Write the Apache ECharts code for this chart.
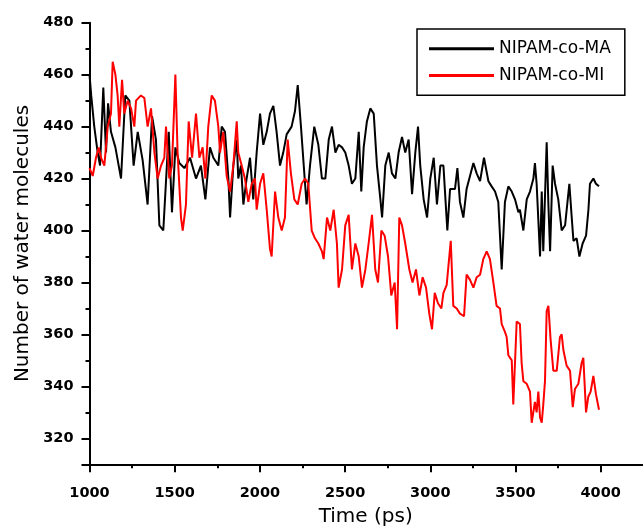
<!DOCTYPE html>
<html><head><meta charset="utf-8">
<script src="https://cdn.jsdelivr.net/npm/echarts@6/dist/echarts.min.js"></script>
<style>html,body{margin:0;padding:0;background:#fff}#c{width:643px;height:532px}</style>
</head><body><div id="c"></div>
<script>
const seriesNames = ['NIPAM-co-MA', 'NIPAM-co-MI'];
const xTitle = 'Time (ps)';
const yTitle = 'Number of water molecules';
const xTickLabels = [1000, 1500, 2000, 2500, 3000, 3500, 4000];
const yTickLabels = [320, 340, 360, 380, 400, 420, 440, 460, 480];

const maTime = [1000,1010,1028,1048,1062,1081,1097,1109,1126,1152,
1185,1210,1234,1259,1283,1312,1341,1367,1390,1410,
1433,1465,1484,1504,1527,1557,1590,1625,1654,1680,
1707,1727,1756,1776,1795,1815,1825,1844,1864,1873,
1889,1903,1922,1942,1961,1981,2001,2020,2040,2059,
2079,2098,2118,2137,2157,2186,2206,2222,2241,2265,
2274,2294,2319,2343,2364,2384,2404,2423,2443,2462,
2482,2501,2521,2540,2560,2580,2595,2609,2628,2648,
2668,2687,2707,2717,2736,2756,2775,2795,2814,2834,
2853,2873,2893,2912,2928,2941,2961,2981,3000,3020,
3039,3059,3077,3100,3116,3145,3159,3174,3194,3213,
3253,3272,3292,3315,3341,3360,3380,3399,3409,3419,
3438,3458,3478,3497,3517,3526,3546,3566,3585,3605,
3614,3624,3644,3654,3663,3683,3693,3703,3718,3732,
3751,3771,3791,3816,3830,3840,3859,3875,3894,3914,
3928,3937,3957,3972,3990];
const maValue = [460,452,440,430,425,455,430,449,438,432,
420,452,450,425,438,427,410,444,435,402,
400,438,407,432,426,424,428,420,425,412,
432,428,425,440,438,420,405,425,435,420,
425,410,420,428,412,430,445,433,438,445,
448,438,425,430,437,440,446,456,440,418,
410,425,440,433,420,420,435,440,430,433,
432,430,425,418,420,438,415,432,442,447,
445,425,412,405,425,430,422,420,430,436,
430,435,414,430,440,425,412,405,420,428,
410,425,425,400,416,416,424,411,405,416,
426,422,419,428,419,417,415,411,398,385,
411,417,415,412,407,408,400,412,415,420,
426,418,390,415,392,434,410,392,425,418,
412,400,402,418,405,396,397,390,395,398,
408,418,420,418,417];

const miTime = [1000,1019,1038,1054,1068,1087,1107,1126,1136,1152,
1165,1175,1191,1204,1224,1244,1263,1273,1302,1322,
1341,1361,1381,1400,1420,1439,1449,1468,1484,1504,
1517,1537,1547,1566,1582,1602,1625,1645,1664,1680,
1697,1717,1736,1756,1766,1785,1805,1825,1844,1864,
1873,1893,1912,1932,1952,1971,1981,2001,2020,2040,
2059,2069,2089,2108,2128,2147,2163,2182,2202,2222,
2245,2265,2284,2304,2323,2343,2364,2374,2394,2413,
2433,2452,2462,2482,2501,2521,2540,2560,2580,2599,
2619,2638,2658,2677,2693,2713,2732,2752,2771,2791,
2805,2818,2834,2853,2877,2896,2916,2936,2955,2975,
2994,3010,3026,3045,3065,3077,3096,3120,3135,3155,
3174,3198,3213,3233,3253,3272,3292,3311,3331,3350,
3370,3389,3409,3419,3438,3448,3458,3478,3487,3507,
3526,3536,3546,3566,3585,3595,3614,3624,3634,3644,
3654,3663,3673,3683,3693,3706,3722,3742,3761,3771,
3781,3800,3820,3836,3849,3869,3888,3898,3914,3927,
3941,3957,3972,3990];
const miValue = [424,421,428,432,428,425,440,445,465,460,
452,440,458,445,450,447,440,450,452,451,
440,447,430,420,425,428,440,420,425,460,
430,405,400,410,442,428,445,428,432,420,
440,452,450,440,430,438,421,415,425,442,
430,425,420,411,418,420,408,418,422,408,
393,390,415,405,400,405,435,422,412,410,
418,420,418,400,397,395,392,389,405,400,
408,395,378,385,402,406,385,395,390,378,
385,395,406,385,380,400,398,390,375,380,
362,405,402,395,385,380,385,375,382,378,
368,362,376,372,370,376,379,396,371,370,
368,367,383,381,378,382,383,389,392,389,
380,371,370,364,361,359,352,350,333,365,
364,349,342,341,338,326,334,330,338,328,
326,333,342,369,371,358,346,346,359,360,
354,348,346,332,339,341,349,351,330,336,
338,344,337,331];

const pairs = (t, v) => t.map((x, i) => [x, v[i]]);

const chart = echarts.init(document.getElementById('c'), null, {renderer: 'canvas'});
const black = '#000000';
const gridPos = {left: 89.5, top: 22.7, bottom: 67.7, width: 596.4, containLabel: false, outerBoundsMode: 'none'};
chart.setOption({
  animation: false,
  backgroundColor: '#ffffff',
  grid: [
    Object.assign({}, gridPos),
    Object.assign({}, gridPos)
  ],
  legend: {
    left: 417, top: 29, orient: 'vertical',
    data: seriesNames,
    icon: 'rect', itemWidth: 65, itemHeight: 3, itemGap: 9.7,
    padding: [11.3, 14, 11.3, 12],
    borderColor: black, borderWidth: 1.5, borderRadius: 0,
    textStyle: {fontFamily: 'DejaVu Sans', fontSize: 17, color: black, lineHeight: 16}
  },
  xAxis: [{
    type: 'value', gridIndex: 0, min: 1000, max: 4500, interval: 500,
    name: xTitle, nameLocation: 'middle', nameGap: 42,
    nameTextStyle: {fontFamily: 'DejaVu Sans', fontSize: 20, color: black, padding: [0, 44, 0, 0]},
    axisLine: {show: true, onZero: false, lineStyle: {color: black, width: 2}},
    axisTick: {show: true, inside: false, length: 8, lineStyle: {color: black, width: 2}},
    minorTick: {show: true, splitNumber: 2, length: 4, lineStyle: {color: black, width: 2}},
    axisLabel: {margin: 21, fontFamily: 'DejaVu Sans', fontWeight: 'bold', fontSize: 14.5, color: black,
      formatter: v => (xTickLabels.indexOf(v) >= 0 ? String(v) : '')},
    splitLine: {show: false}
  }, {
    type: 'value', gridIndex: 1, min: 1000, max: 4500, show: false
  }],
  yAxis: [{
    type: 'value', gridIndex: 0, min: 310, max: 480, splitNumber: 8,
    name: yTitle, nameLocation: 'middle', nameGap: 57, nameRotate: 90,
    nameTextStyle: {fontFamily: 'DejaVu Sans', fontSize: 20, color: black},
    axisLine: {show: true, onZero: false, lineStyle: {color: black, width: 2}},
    axisTick: {show: true, inside: false, length: 8, lineStyle: {color: black, width: 2}},
    axisLabel: {margin: 16, fontFamily: 'DejaVu Sans', fontWeight: 'bold', fontSize: 14.5, color: black,
      formatter: v => (yTickLabels.indexOf(v) >= 0 ? String(v) : '')},
    splitLine: {show: false}
  }, {
    type: 'value', gridIndex: 1, min: 310, max: 480, interval: 10,
    axisLine: {show: false},
    axisTick: {show: true, inside: false, length: 4, lineStyle: {color: black, width: 2}},
    axisLabel: {show: false},
    splitLine: {show: false}
  }],
  series: [{
    name: seriesNames[0], type: 'line', xAxisIndex: 0, yAxisIndex: 0,
    data: pairs(maTime, maValue), showSymbol: false, symbol: 'none',
    lineStyle: {color: black, width: 2}, itemStyle: {color: black}, z: 2
  }, {
    name: seriesNames[1], type: 'line', xAxisIndex: 0, yAxisIndex: 0,
    data: pairs(miTime, miValue), showSymbol: false, symbol: 'none',
    lineStyle: {color: '#ff0000', width: 2}, itemStyle: {color: '#ff0000'}, z: 3
  }]
});
</script></body></html>
